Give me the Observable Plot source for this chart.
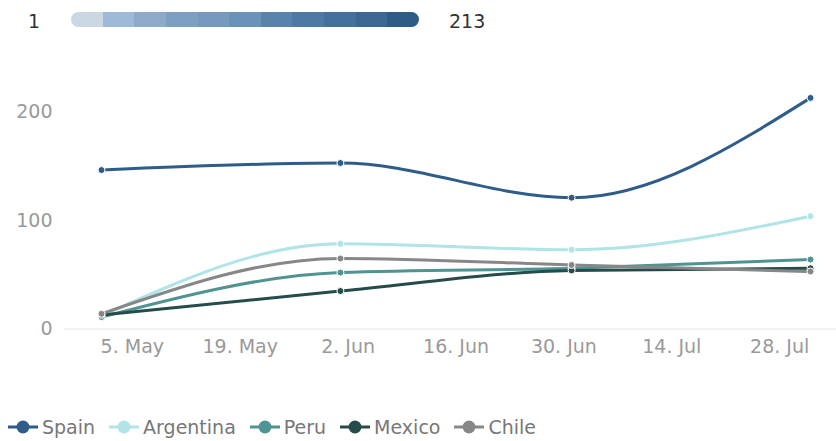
<!DOCTYPE html>
<html><head><meta charset="utf-8">
<script src="https://cdn.jsdelivr.net/npm/d3@7"></script>
<script src="https://cdn.jsdelivr.net/npm/@observablehq/plot@0.6"></script>
<style>
body{margin:0;background:#fff;font-family:"DejaVu Sans",sans-serif;}
#wrap{position:relative;width:836px;height:441px;overflow:hidden;}
#top{position:relative;width:836px;height:40px;}
#chart{height:365px;}
#chart svg{display:block;}
#legend{position:relative;top:4px;height:36px;display:flex;align-items:center;padding-left:8px;}
.item{display:flex;align-items:center;margin-right:14px;color:#777;font-size:19px;}
.item svg{margin-right:4px;}
.lab{position:absolute;top:10px;font-size:19px;color:#333;line-height:22px;}
#ramp{position:absolute;left:71px;top:12px;width:348px;height:15px;border-radius:8px;overflow:hidden;display:flex;}
#ramp div{flex:1;height:100%;}
</style></head><body>
<div id="wrap"><div id="top"></div><div id="chart"></div><div id="legend"></div></div>
<script>
const dates = ["2020-05-01","2020-06-01","2020-07-01","2020-08-01"];
const countries = ["Spain","Argentina","Peru","Mexico","Chile"];
const spain = [146.5,153,121,213];
const argentina = [12,78.5,73,104];
const peru = [11,52,56,64];
const mexico = [13,35,54,56];
const chile = [14,65,59,53];
const seriesColors = ["#2f5d8a","#b0e4e6","#4f9490","#264b4b","#878787"];
const xTicks = ["2020-05-05","2020-05-19","2020-06-02","2020-06-16","2020-06-30","2020-07-14","2020-07-28"];
const yTicks = [0,100,200];
const colorMin = 1, colorMax = 213;
const rampColors = ["#cbd8e3","#9fbad6","#8eaac8","#7ea0c0","#7699bd","#6b92b9","#5a83ab","#4f79a5","#456f9c","#3b6792","#2f5b87"];

const valuesBySeries = [spain, argentina, peru, mexico, chile];
const data = [];
countries.forEach((c, i) => valuesBySeries[i].forEach((v, j) => data.push({country: c, date: new Date(dates[j]), value: v})));

const day = 864e5;
const x0 = new Date(Date.parse(dates[0]) - 4.8 * day);
const x1 = new Date(Date.parse(dates[3]) + 3.37 * day);

const plot = Plot.plot({
  width: 836, height: 365,
  marginLeft: 64, marginRight: 0, marginTop: 17.25, marginBottom: 76.5,
  style: {fontSize: "19px", fontFamily: "DejaVu Sans, sans-serif", color: "#999", background: "#fff"},
  x: {type: "utc", domain: [x0, x1]},
  y: {domain: [0, 250]},
  color: {domain: countries, range: seriesColors},
  marks: [
    Plot.ruleY([0], {stroke: "#e6e6e6", strokeWidth: 1}),
    Plot.axisX({ticks: xTicks.map(d => new Date(d)), tickFormat: d3.utcFormat("%-d. %b"), tickSize: 0, tickPadding: 10, label: null}),
    Plot.axisY({ticks: yTicks, tickSize: 0, tickPadding: 12, label: null}),
    Plot.line(data, {x: "date", y: "value", z: "country", stroke: "country", strokeWidth: 3, curve: "monotone-x"}),
    Plot.dot(data, {x: "date", y: "value", fill: "country", stroke: "#fff", strokeWidth: 1, r: 3.5})
  ]
});
document.getElementById("chart").appendChild(plot);

// top colour legend
const topBox = d3.select("#top");
topBox.append("div").attr("class", "lab").style("left", "28px").text(colorMin);
const ramp = topBox.append("div").attr("id", "ramp");
rampColors.forEach(c => ramp.append("div").style("background", c));
topBox.append("div").attr("class", "lab").style("left", "449px").text(colorMax);

// bottom legend
const leg = d3.select("#legend");
countries.forEach((c, i) => {
  const it = leg.append("div").attr("class", "item");
  const s = it.append("svg").attr("width", 30).attr("height", 20);
  s.append("line").attr("x1", 0).attr("x2", 30).attr("y1", 10).attr("y2", 10).attr("stroke", seriesColors[i]).attr("stroke-width", 3);
  s.append("circle").attr("cx", 15).attr("cy", 10).attr("r", 6.5).attr("fill", seriesColors[i]);
  it.append("span").text(c);
});
</script>
</body></html>
